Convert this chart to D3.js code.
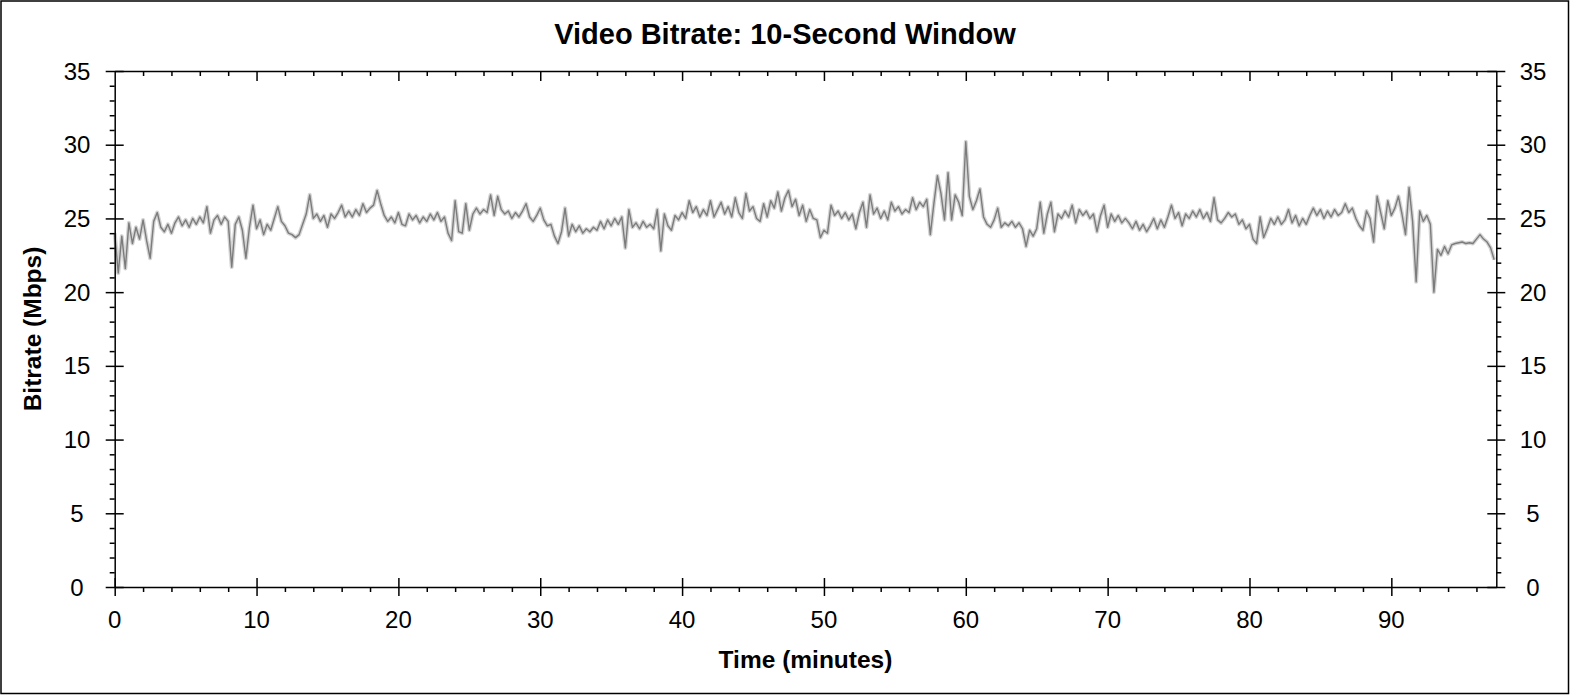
<!DOCTYPE html>
<html>
<head>
<meta charset="utf-8">
<script src="https://cdn.jsdelivr.net/npm/d3@7"></script>
<style>
  html, body { margin: 0; padding: 0; background: #fff; }
  svg { display: block; font-family: Arial, "Liberation Sans", sans-serif; }
</style>
</head>
<body>
<svg id="chart" width="1570" height="695"></svg>
<script>
// ---- data ----
const titleText = "Video Bitrate: 10-Second Window";
const xLabel = "Time (minutes)";
const yLabel = "Bitrate (Mbps)";
const xMajorTicks = [0, 10, 20, 30, 40, 50, 60, 70, 80, 90];
const yMajorTicks = [0, 5, 10, 15, 20, 25, 30, 35];
const sampleStep = 0.25; // minutes between samples
// bitrate (Mbps), one value every 0.25 minute, starting at 0 min
const bitrate = [
  // 0-5
  24.0, 21.3, 23.8, 21.6, 24.7, 23.3, 24.4, 23.6, 24.9, 23.5, 22.3, 24.8, 25.4, 24.4, 24.1, 24.6, 24.0, 24.7, 25.1, 24.5,
  // 5-10
  24.9, 24.4, 25.0, 24.6, 25.1, 24.7, 25.8, 24.0, 24.9, 25.2, 24.6, 25.1, 24.8, 21.7, 24.6, 25.1, 24.2, 22.3, 24.4, 25.9,
  // 10-15
  24.3, 24.9, 23.9, 24.6, 24.2, 25.0, 25.8, 24.8, 24.5, 24.0, 23.9, 23.7, 23.9, 24.6, 25.3, 26.6, 25.0, 25.3, 24.8, 25.2,
  // 15-20
  24.4, 25.3, 25.0, 25.4, 25.9, 25.1, 25.5, 25.1, 25.6, 25.2, 26.0, 25.4, 25.7, 25.9, 26.9, 26.0, 25.2, 24.8, 25.1, 24.7,
  // 20-25
  25.4, 24.6, 24.5, 25.3, 24.9, 25.2, 24.7, 25.1, 24.8, 25.3, 24.9, 25.4, 24.8, 25.1, 24.0, 23.5, 26.2, 24.1, 24.0, 26.0,
  // 25-30
  24.2, 25.3, 25.7, 25.3, 25.6, 25.4, 26.6, 25.2, 26.5, 25.6, 25.3, 25.5, 25.0, 25.4, 25.1, 25.5, 26.0, 25.1, 24.8, 25.2,
  // 30-35
  25.7, 24.9, 24.5, 24.6, 23.8, 23.3, 24.1, 25.7, 23.8, 24.6, 24.1, 24.5, 24.0, 24.3, 24.1, 24.4, 24.2, 24.8, 24.3, 24.9,
  // 35-40
  24.5, 25.0, 24.6, 25.1, 23.0, 25.6, 24.4, 24.7, 24.3, 24.8, 24.4, 24.6, 24.3, 25.6, 22.8, 25.3, 24.5, 24.2, 25.2, 24.9,
  // 40-45
  25.4, 25.0, 26.2, 25.4, 25.8, 25.1, 25.6, 25.2, 26.2, 25.1, 25.6, 26.1, 25.3, 25.8, 25.1, 26.4, 25.4, 25.0, 26.7, 25.5,
  // 45-50
  25.8, 25.0, 24.8, 26.0, 25.1, 26.2, 25.7, 26.8, 25.5, 26.4, 26.9, 25.8, 26.3, 25.2, 25.9, 24.8, 25.6, 25.0, 24.9, 23.7,
  // 50-55
  24.2, 24.0, 25.9, 25.2, 25.5, 25.0, 25.4, 24.9, 25.3, 24.3, 25.4, 26.1, 24.4, 26.6, 25.3, 25.7, 25.0, 25.5, 24.9, 26.1,
  // 55-60
  25.5, 25.8, 25.3, 25.6, 25.4, 26.4, 25.6, 26.1, 25.8, 26.3, 23.9, 26.0, 27.9, 26.7, 24.9, 28.1, 24.9, 26.6, 26.1, 25.2,
  // 60-65
  30.2, 26.5, 25.6, 26.2, 27.0, 25.1, 24.6, 24.4, 24.9, 25.7, 24.4, 24.7, 24.5, 24.8, 24.4, 24.7, 24.3, 23.1, 24.2, 23.8,
  // 65-70
  24.3, 26.1, 24.0, 25.3, 26.1, 24.1, 25.3, 25.0, 25.5, 25.1, 25.9, 24.7, 25.6, 25.2, 25.5, 25.0, 25.3, 24.1, 25.2, 25.9,
  // 70-75
  24.4, 25.3, 24.8, 25.2, 24.7, 25.0, 24.7, 24.3, 24.8, 24.2, 24.6, 24.1, 24.5, 25.0, 24.3, 24.9, 24.4, 25.1, 25.9, 25.0,
  // 75-80
  25.4, 24.5, 25.3, 25.0, 25.5, 25.1, 25.6, 25.0, 25.4, 24.8, 26.4, 24.9, 24.7, 25.0, 25.4, 25.1, 25.3, 24.6, 24.9, 24.3,
  // 80-85
  24.6, 23.6, 23.3, 25.1, 23.7, 24.3, 25.0, 24.6, 25.1, 24.6, 24.9, 25.6, 24.7, 25.2, 24.5, 25.0, 24.6, 25.2, 25.7, 25.2,
  // 85-90
  25.6, 25.0, 25.5, 25.1, 25.6, 25.2, 25.4, 26.0, 25.4, 25.7, 25.0, 24.5, 24.2, 25.5, 25.0, 23.4, 26.5, 25.4, 24.3, 26.2,
  // 90-95
  25.2, 25.7, 26.5, 25.3, 23.9, 27.1, 24.8, 20.7, 25.5, 24.8, 25.2, 24.6, 20.0, 22.9, 22.5, 23.1, 22.6, 23.2, 23.3, 23.35,
  // 95-97.25
  23.4, 23.3, 23.35, 23.3, 23.6, 23.9, 23.6, 23.4, 23.0, 22.2
];
const xMax = 97.4;
const yMax = 35;

// ---- layout ----
const svg = d3.select("#chart");
const W = 1570, H = 695;
const plot = { left: 114.7, right: 1496.3, top: 71, bottom: 587 };

const x = d3.scaleLinear().domain([0, xMax]).range([plot.left, plot.right]);
const y = d3.scaleLinear().domain([0, yMax]).range([plot.bottom, plot.top]);

// outer border
svg.append("rect").attr("x", 1).attr("y", 1).attr("width", W - 2.5).attr("height", H - 2.5)
  .attr("fill", "none").attr("stroke", "#000").attr("stroke-width", 1.5);

// title
svg.append("text").attr("x", 785).attr("y", 44).attr("text-anchor", "middle")
  .attr("font-size", 29).attr("font-weight", "bold").text(titleText);

// data line
const series = bitrate.map((v, i) => ({ t: i * sampleStep, v }));
const line = d3.line().x(d => x(d.t)).y(d => y(d.v));
svg.append("path").datum(series).attr("d", line)
  .attr("fill", "none").attr("stroke", "#d4d4d4").attr("stroke-width", 4).attr("stroke-linejoin", "round");
svg.append("path").datum(series).attr("d", line)
  .attr("fill", "none").attr("stroke", "#7c7c7c").attr("stroke-width", 1.4).attr("stroke-linejoin", "round");

// axes
const xMinor = d3.range(0, xMax, 2).filter(v => v % 10 !== 0);
const yMinor = d3.range(0, yMax, 1).filter(v => v % 5 !== 0);

function styleAxis(g) {
  g.select(".domain").attr("stroke", "#000").attr("stroke-width", 1.5);
  g.selectAll(".tick line").attr("stroke", "#000").attr("stroke-width", 1.5);
}

// bottom axis: major crossing, minor outward
const gB = svg.append("g").attr("transform", `translate(0,${plot.bottom})`);
gB.call(d3.axisBottom(x).tickValues(xMinor).tickSize(5).tickFormat("").tickSizeOuter(0)).call(styleAxis);
const gBM = svg.append("g").attr("transform", `translate(0,${plot.bottom - 9})`);
gBM.call(d3.axisBottom(x).tickValues(xMajorTicks).tickSize(18).tickFormat("").tickSizeOuter(0)).call(styleAxis);
gBM.select(".domain").remove();
svg.append("g").selectAll("text").data(xMajorTicks).join("text")
  .attr("x", d => x(d)).attr("y", 628).attr("text-anchor", "middle").attr("font-size", 24).text(d => d);

// top axis: inward ticks
const gT = svg.append("g").attr("transform", `translate(0,${plot.top})`);
gT.call(d3.axisBottom(x).tickValues(xMinor).tickSize(5).tickFormat("").tickSizeOuter(0)).call(styleAxis);
const gTM = svg.append("g").attr("transform", `translate(0,${plot.top})`);
gTM.call(d3.axisBottom(x).tickValues(xMajorTicks.filter(v => v > 0)).tickSize(10).tickFormat("").tickSizeOuter(0)).call(styleAxis);
gTM.select(".domain").remove();

// left axis
const gL = svg.append("g").attr("transform", `translate(${plot.left},0)`);
gL.call(d3.axisLeft(y).tickValues(yMinor).tickSize(5).tickFormat("").tickSizeOuter(0)).call(styleAxis);
const gLM = svg.append("g").attr("transform", `translate(${plot.left + 9},0)`);
gLM.call(d3.axisLeft(y).tickValues(yMajorTicks).tickSize(18).tickFormat("").tickSizeOuter(0)).call(styleAxis);
gLM.select(".domain").remove();
svg.append("g").selectAll("text").data(yMajorTicks).join("text")
  .attr("x", 77).attr("y", d => y(d) + 8.5).attr("text-anchor", "middle").attr("font-size", 24).text(d => d);

// right axis
const gR = svg.append("g").attr("transform", `translate(${plot.right},0)`);
gR.call(d3.axisRight(y).tickValues(yMinor).tickSize(5).tickFormat("").tickSizeOuter(0)).call(styleAxis);
const gRM = svg.append("g").attr("transform", `translate(${plot.right - 9},0)`);
gRM.call(d3.axisRight(y).tickValues(yMajorTicks).tickSize(18).tickFormat("").tickSizeOuter(0)).call(styleAxis);
gRM.select(".domain").remove();
svg.append("g").selectAll("text").data(yMajorTicks).join("text")
  .attr("x", 1533).attr("y", d => y(d) + 8.5).attr("text-anchor", "middle").attr("font-size", 24).text(d => d);

// axis titles
svg.append("text").attr("x", (plot.left + plot.right) / 2).attr("y", 668).attr("text-anchor", "middle")
  .attr("font-size", 24.5).attr("font-weight", "bold").text(xLabel);
svg.append("text").attr("transform", `translate(41,${(plot.top + plot.bottom) / 2}) rotate(-90)`)
  .attr("text-anchor", "middle").attr("font-size", 24.5).attr("font-weight", "bold").text(yLabel);
</script>
</body>
</html>
